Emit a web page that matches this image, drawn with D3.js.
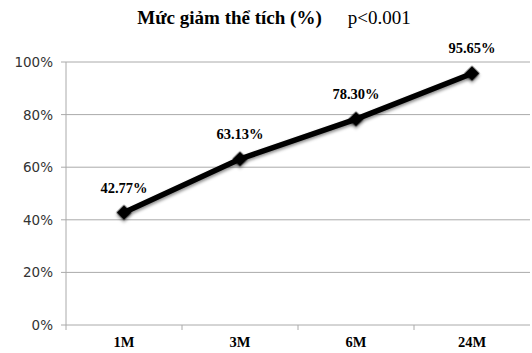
<!DOCTYPE html>
<html>
<head>
<meta charset="utf-8">
<script src="https://cdn.jsdelivr.net/npm/d3@7"></script>
<style>
  body { margin: 0; background: #fff; }
</style>
</head>
<body>
<svg id="chart"></svg>
<script>
const categories = ["1M", "3M", "6M", "24M"];
const values = [42.77, 63.13, 78.3, 95.65];
const yTicks = [0, 20, 40, 60, 80, 100];

const margin = { top: 62, right: 2, bottom: 28, left: 66 },
  width = 532 - margin.left - margin.right,
  height = 353 - margin.top - margin.bottom;

const root = d3.select("#chart").attr("width", 532).attr("height", 353);

const defs = root.append("defs");
const shadow = defs.append("filter").attr("id", "shadow")
  .attr("x", "-50%").attr("y", "-50%").attr("width", "200%").attr("height", "200%");
shadow.append("feDropShadow").attr("dx", 1.5).attr("dy", 1.5)
  .attr("stdDeviation", 1.5).attr("flood-color", "#000").attr("flood-opacity", 0.45);

const svg = root.append("g").attr("transform", `translate(${margin.left},${margin.top})`);

const x = d3.scaleBand().domain(categories).range([0, width]);
const y = d3.scaleLinear().domain([0, 100]).range([height, 0]);

// grid
svg.append("g")
  .selectAll("line")
  .data(yTicks)
  .enter()
  .append("line")
  .attr("x1", -5)
  .attr("x2", width)
  .attr("y1", (d) => y(d))
  .attr("y2", (d) => y(d))
  .attr("stroke", "#aaa")
  .attr("stroke-width", 1);

// y axis
svg.append("line")
  .attr("x1", 0).attr("x2", 0).attr("y1", 0).attr("y2", height + 5)
  .attr("stroke", "#aaa");

svg.append("g")
  .selectAll("text")
  .data(yTicks)
  .enter()
  .append("text")
  .attr("x", -13)
  .attr("y", (d) => y(d) + 5)
  .attr("text-anchor", "end")
  .attr("font-family", "DejaVu Sans, sans-serif")
  .attr("font-size", "13.5px")
  .attr("fill", "#333")
  .text((d) => d + "%");

// x ticks
svg.append("g")
  .selectAll("line")
  .data(categories.slice(1))
  .enter()
  .append("line")
  .attr("x1", (d) => x(d))
  .attr("x2", (d) => x(d))
  .attr("y1", height)
  .attr("y2", height + 5)
  .attr("stroke", "#aaa");

svg.append("g")
  .selectAll("text")
  .data(categories)
  .enter()
  .append("text")
  .attr("x", (d) => x(d) + x.bandwidth() / 2)
  .attr("y", height + 22)
  .attr("text-anchor", "middle")
  .attr("font-family", "Liberation Serif, serif")
  .attr("font-weight", "bold")
  .attr("font-size", "14.5px")
  .text((d) => d);

const pts = categories.map((c, i) => ({ c: c, v: values[i] }));
const cx = (d) => x(d.c) + x.bandwidth() / 2;

const line = d3.line().x(cx).y((d) => y(d.v));

svg.append("path")
  .datum(pts)
  .attr("d", line)
  .attr("fill", "none")
  .attr("stroke", "#000")
  .attr("stroke-width", 5.5)
  .attr("filter", "url(#shadow)");

svg.selectAll(".pt")
  .data(pts)
  .enter()
  .append("path")
  .attr("class", "pt")
  .attr("d", d3.symbol().type(d3.symbolSquare).size(115))
  .attr("transform", (d) => `translate(${cx(d)},${y(d.v)}) rotate(45)`)
  .attr("fill", "#000")
  .attr("filter", "url(#shadow)");

svg.selectAll(".lbl")
  .data(pts)
  .enter()
  .append("text")
  .attr("class", "lbl")
  .attr("x", cx)
  .attr("y", (d) => y(d.v) - 20)
  .attr("text-anchor", "middle")
  .attr("font-family", "Liberation Serif, serif")
  .attr("font-weight", "bold")
  .attr("font-size", "14.5px")
  .text((d) => d.v.toFixed(2) + "%");

// title
const title = root.append("text")
  .attr("x", 274)
  .attr("y", 24)
  .attr("text-anchor", "middle")
  .attr("font-family", "Liberation Serif, serif")
  .attr("font-size", "19px");
title.append("tspan").attr("font-weight", "bold").text("Mức giảm thể tích (%)");
title.append("tspan").attr("dx", 26).text("p<0.001");
</script>
</body>
</html>
